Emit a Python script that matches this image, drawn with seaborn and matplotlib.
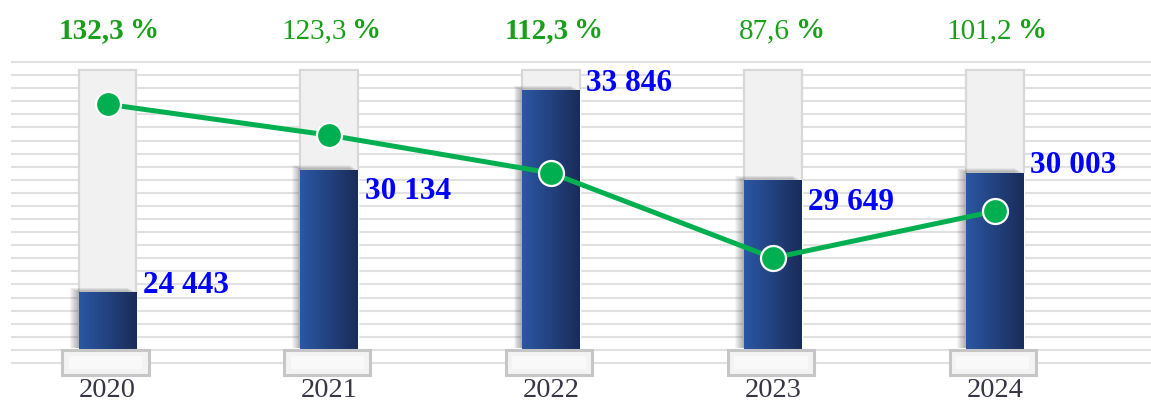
import numpy as np
import matplotlib
matplotlib.use("Agg")
import matplotlib.pyplot as plt
import matplotlib.patheffects as pe
import matplotlib.transforms as mtransforms
from matplotlib.patches import Rectangle
from matplotlib.colors import LinearSegmentedColormap
import pandas as pd
import seaborn as sns

# Data
years = ["2020", "2021", "2022", "2023", "2024"]
amounts = [24443, 30134, 33846, 29649, 30003]
growth_pct = [132.3, 123.3, 112.3, 87.6, 101.2]
growth_bold = [True, False, True, False, False]
# value labels tucked under the bar top where the line passes close by
label_below = [False, True, False, True, False]

df = pd.DataFrame({"year": years, "amount": amounts, "growth": growth_pct})

sns.set_theme(style="white")
plt.rcParams["font.family"] = ["Liberation Serif", "DejaVu Serif"]

W, H = 1151, 403
fig = plt.figure(figsize=(W / 100, H / 100), dpi=100)
fig.patch.set_facecolor("white")


def px_rect(x0, top, x1, bottom):
    """Axes rectangle from pixel coordinates (origin top-left)."""
    return [x0 / W, 1 - bottom / H, (x1 - x0) / W, (bottom - top) / H]


XLIM = (-0.435, 4.703)
BAR_W = 0.261
PED_W = 0.39

# Striped background
ax_bg = fig.add_axes(px_rect(11, 60, 1151, 365))
ax_bg.set_xlim(0, 1)
ax_bg.set_ylim(-0.153, 23.153)
for k in range(24):
    ax_bg.axhline(k, color="#e1e1e1", lw=1.5, zorder=0)
ax_bg.axis("off")

# Bars
ax = fig.add_axes(px_rect(11, 62, 1151, 348))
ax.patch.set_alpha(0)
Y0, Y1 = 21835, 35150

sns.barplot(data=df, x="year", y="amount", ax=ax, width=BAR_W,
            color="#2a55a0", saturation=1, zorder=4, errorbar=None)
bar_patches = list(ax.patches)

# Full-height grey columns behind the bars
col_top = Y0 + (278 / 286) * (Y1 - Y0)
ax.bar(np.arange(len(years)), col_top - Y0 + 500, bottom=Y0 - 500, width=BAR_W,
       color="#f1f1f1", edgecolor="#d8d8d8", linewidth=1.6, zorder=1)

# Soft shadow and horizontal gradient on the blue bars
shadow = [pe.SimplePatchShadow(offset=(-0.7 * k, 0.35 * k), shadow_rgbFace="0.25",
                               alpha=0.05) for k in range(1, 10)]
cmap = LinearSegmentedColormap.from_list("bar", ["#2b57a4", "#1a2c59"])
grad = np.linspace(0, 1, 256).reshape(1, -1)
for p in bar_patches:
    p.set_path_effects(shadow + [pe.Normal()])
    x0, w, h = p.get_x(), p.get_width(), p.get_height()
    im = ax.imshow(grad, cmap=cmap, extent=[x0, x0 + w, Y0 - 1000, h],
                   aspect="auto", zorder=5, interpolation="bilinear")
    im.set_clip_path(p)

ax.set_xlim(*XLIM)
ax.set_ylim(Y0, Y1)

# Pedestals under each column
ped_tr = mtransforms.blended_transform_factory(ax.transData, ax.transAxes)
ped_lo, ped_hi = (348 - 375) / 286, (348 - 350) / 286
for i in range(len(years)):
    cx = i - 0.01
    ax.add_patch(Rectangle((cx - PED_W / 2, ped_lo), PED_W, ped_hi - ped_lo,
                           transform=ped_tr, facecolor="#f3f3f3", edgecolor="#c6c6c6",
                           linewidth=2.2, clip_on=False, zorder=6))
    ax.add_patch(Rectangle((cx - PED_W / 2 + 0.03, ped_lo + 0.02), PED_W - 0.06,
                           ped_hi - ped_lo - 0.04, transform=ped_tr,
                           facecolor="#f9f9f9", edgecolor="none", clip_on=False, zorder=6))

# Value labels
for i, (v, below) in enumerate(zip(amounts, label_below)):
    ax.annotate(f"{v:,}".replace(",", " "), xy=(i + BAR_W / 2, v),
                xytext=(4.5, -16 if below else 5), textcoords="offset points",
                ha="left", va="center", color="#0000ff", fontsize=22.5,
                fontweight="bold", zorder=7)

# Growth labels above the chart
top_tr = mtransforms.blended_transform_factory(ax.transData, ax.transAxes)
for i, (p, bold) in enumerate(zip(growth_pct, growth_bold)):
    num = ax.text(i + 17 / 221.9, 1.063, f"{p:.1f}".replace(".", ","),
                  transform=top_tr, ha="right", va="bottom", color="#1a9f1a",
                  fontsize=21, fontweight="bold" if bold else "normal", clip_on=False)
    ax.annotate("%", xy=(1, 0), xycoords=num, xytext=(4, 0), textcoords="offset points",
                ha="left", va="bottom", color="#1a9f1a", fontsize=21, fontweight="bold")

# Year labels
ax.set_xticks(range(len(years)))
ax.set_xticklabels(years)
ax.set_xlabel("")
ax.set_ylabel("")
for s in ax.spines.values():
    s.set_visible(False)

# Growth line on a secondary scale
ax2 = ax.twinx()
sns.lineplot(x=np.arange(len(years)), y=growth_pct, ax=ax2, color="#00b050", lw=3.6,
             marker="o", markersize=18, markeredgecolor="white", markeredgewidth=1.6,
             zorder=8)
ax2.set_ylim(61.4, 144.6)
ax2.set_xlim(*XLIM)
ax2.axis("off")

# tick styling after twinx, which re-enables the left ticks
ax.tick_params(axis="x", length=0, pad=21.5, labelsize=20.5, labelcolor="#363644")
ax.tick_params(axis="y", left=False, right=False, labelleft=False, labelright=False)

fig.savefig("out.png", dpi=100)
